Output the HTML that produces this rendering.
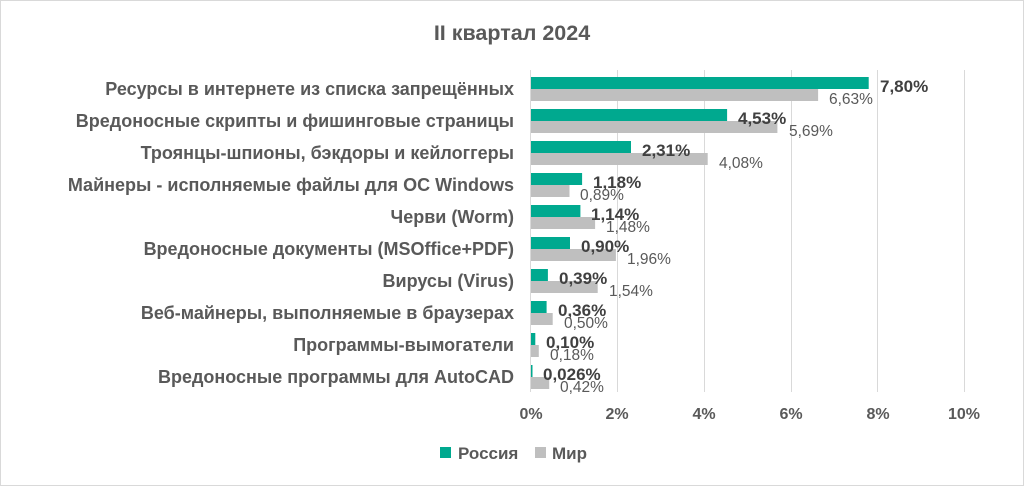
<!DOCTYPE html>
<html><head><meta charset="utf-8"><style>
body{margin:0;background:#fff}
svg{display:block;font-family:"Liberation Sans","DejaVu Sans",sans-serif}
</style></head><body>
<svg width="1024" height="486" xmlns="http://www.w3.org/2000/svg">
<rect x="0.5" y="0.5" width="1023" height="485" fill="#fff" stroke="#d9d9d9"/>
<text x="512" y="40" text-anchor="middle" font-size="21.5" font-weight="bold" fill="#595959">II квартал 2024</text>
<g stroke="#d9d9d9" stroke-width="1">
<line x1="617.5" y1="70" x2="617.5" y2="392"/>
<line x1="704.5" y1="70" x2="704.5" y2="392"/>
<line x1="791.5" y1="70" x2="791.5" y2="392"/>
<line x1="877.5" y1="70" x2="877.5" y2="392"/>
<line x1="964.5" y1="70" x2="964.5" y2="392"/>
<line x1="530.5" y1="70" x2="530.5" y2="392"/>
</g>
<g font-size="16" font-weight="bold" fill="#595959" text-anchor="middle">
<text x="531" y="419">0%</text><text x="617" y="419">2%</text><text x="704" y="419">4%</text>
<text x="791" y="419">6%</text><text x="878" y="419">8%</text><text x="964" y="419">10%</text>
</g>
<g font-size="18" font-weight="bold" fill="#595959" text-anchor="end">
<text x="514" y="95">Ресурсы в интернете из списка запрещённых</text>
<text x="514" y="127">Вредоносные скрипты и фишинговые страницы</text>
<text x="514" y="159">Троянцы-шпионы, бэкдоры и кейлоггеры</text>
<text x="514" y="191">Майнеры - исполняемые файлы для ОС Windows</text>
<text x="514" y="223">Черви (Worm)</text>
<text x="514" y="255">Вредоносные документы (MSOffice+PDF)</text>
<text x="514" y="287">Вирусы (Virus)</text>
<text x="514" y="319">Веб-майнеры, выполняемые в браузерах</text>
<text x="514" y="351">Программы-вымогатели</text>
<text x="514" y="383">Вредоносные программы для AutoCAD</text>
</g>
<g fill="#00a98f">
<rect x="531" y="77" width="337.7" height="12"/>
<rect x="531" y="109" width="196.1" height="12"/>
<rect x="531" y="141" width="100" height="12"/>
<rect x="531" y="173" width="51.1" height="12"/>
<rect x="531" y="205" width="49.4" height="12"/>
<rect x="531" y="237" width="39" height="12"/>
<rect x="531" y="269" width="16.9" height="12"/>
<rect x="531" y="301" width="15.6" height="12"/>
<rect x="531" y="333" width="4.3" height="12"/>
<rect x="531" y="365" width="1.5" height="12"/>
</g>
<g fill="#bfbfbf">
<rect x="531" y="89" width="287.1" height="12"/>
<rect x="531" y="121" width="246.4" height="12"/>
<rect x="531" y="153" width="176.7" height="12"/>
<rect x="531" y="185" width="38.5" height="12"/>
<rect x="531" y="217" width="64.1" height="12"/>
<rect x="531" y="249" width="84.9" height="12"/>
<rect x="531" y="281" width="66.7" height="12"/>
<rect x="531" y="313" width="21.7" height="12"/>
<rect x="531" y="345" width="7.8" height="12"/>
<rect x="531" y="377" width="18.2" height="12"/>
</g>
<g font-size="17" font-weight="bold" fill="#404040">
<text x="880" y="92">7,80%</text>
<text x="738" y="124">4,53%</text>
<text x="642" y="156">2,31%</text>
<text x="593" y="188">1,18%</text>
<text x="591" y="220">1,14%</text>
<text x="581" y="252">0,90%</text>
<text x="559" y="284">0,39%</text>
<text x="558" y="316">0,36%</text>
<text x="546" y="348">0,10%</text>
<text x="543" y="380">0,026%</text>
</g>
<g font-size="15.5" fill="#595959">
<text x="829" y="104">6,63%</text>
<text x="789" y="136">5,69%</text>
<text x="719" y="168">4,08%</text>
<text x="580" y="200">0,89%</text>
<text x="606" y="232">1,48%</text>
<text x="627" y="264">1,96%</text>
<text x="609" y="296">1,54%</text>
<text x="564" y="328">0,50%</text>
<text x="550" y="360">0,18%</text>
<text x="560" y="392">0,42%</text>
</g>
<rect x="440" y="447" width="11" height="11" fill="#00a98f"/>
<text x="458" y="459" font-size="17" font-weight="bold" fill="#595959">Россия</text>
<rect x="535" y="447" width="11" height="11" fill="#bfbfbf"/>
<text x="552" y="459" font-size="17" font-weight="bold" fill="#595959">Мир</text>
</svg>
</body></html>
